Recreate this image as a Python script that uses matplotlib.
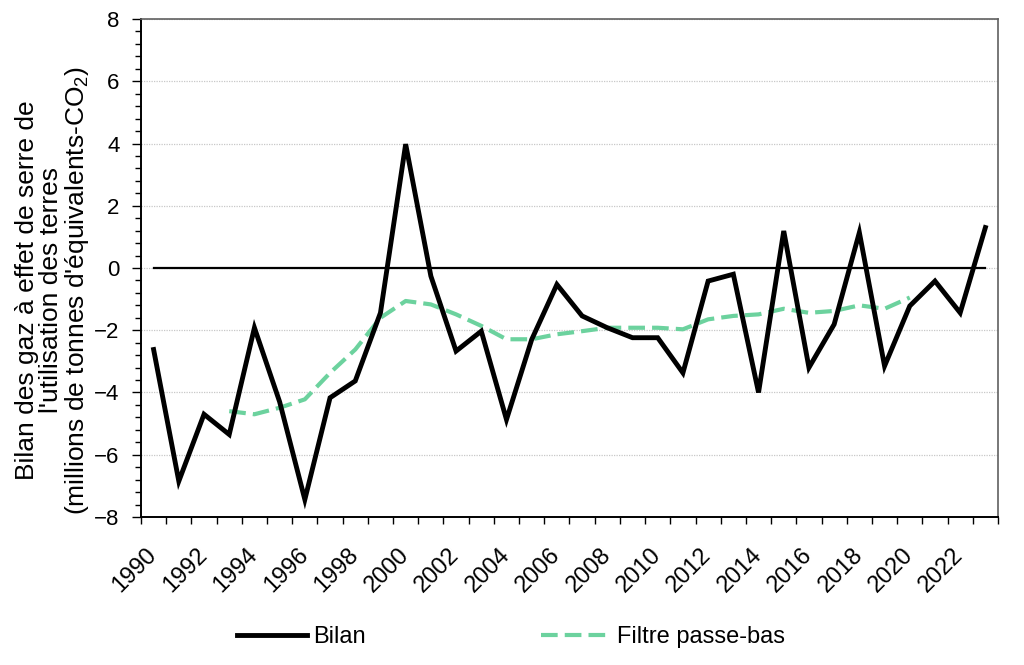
import numpy as np
import matplotlib
matplotlib.use('Agg')
import matplotlib.pyplot as plt
import matplotlib.transforms as mtransforms
from matplotlib.ticker import MultipleLocator, FixedLocator

plt.rcParams['font.family'] = ['Liberation Sans', 'DejaVu Sans']
plt.rcParams['mathtext.default'] = 'regular'

# donnees
annees = list(range(1990, 2024))
bilan = [-2.62, -6.85, -4.7, -5.35, -1.92, -4.3, -7.44, -4.17, -3.63, -1.44,
         3.98, -0.26, -2.67, -2.03, -4.87, -2.3, -0.53, -1.54, -1.92, -2.24,
         -2.24, -3.37, -0.42, -0.2, -4.0, 1.19, -3.2, -1.81, 1.14, -3.15,
         -1.22, -0.42, -1.44, 1.3]
annees_filtre = list(range(1993, 2021))
filtre = [-4.6, -4.7, -4.49, -4.22, -3.37, -2.62, -1.6, -1.06, -1.17, -1.49,
          -1.86, -2.29, -2.29, -2.13, -2.03, -1.92, -1.92, -1.92, -1.97, -1.65,
          -1.54, -1.49, -1.31, -1.44, -1.38, -1.2, -1.31, -0.95]
etiquettes = [str(a) for a in range(1990, 2023, 2)]

x = np.arange(len(annees))
x_filtre = np.array([annees.index(a) for a in annees_filtre])

fig = plt.figure(figsize=(10.24, 6.65), dpi=100)
ax = fig.add_axes([0.1377, 0.2226, 0.8369, 0.7488])

ax.plot(x, np.zeros(len(x)), color='black', lw=1.6, zorder=2)
l1, = ax.plot(x, bilan, color='black', lw=3.5, solid_joinstyle='miter', zorder=4, label='Bilan')
l2, = ax.plot(x_filtre, filtre, color='#6cd29e', lw=3.0, dashes=(4, 1.7), zorder=3,
              label='Filtre passe-bas')

ax.set_xlim(-0.5, len(x) - 0.5)
ax.set_ylim(-8, 8)
ax.yaxis.set_major_locator(MultipleLocator(2))
ax.yaxis.set_minor_locator(MultipleLocator(0.4))
ax.grid(axis='y', which='major', color='#c8c8c8', linestyle=(0, (1, 1)), lw=0.9, zorder=0)

ax.xaxis.set_major_locator(FixedLocator(np.arange(0, len(x), 2)))
ax.set_xticklabels(etiquettes, rotation=45, ha='right', va='center', rotation_mode='anchor',
                   fontsize=17, color='black')
decalage = mtransforms.ScaledTranslation(-0.03, 0, fig.dpi_scale_trans)
for lab in ax.get_xticklabels():
    lab.set_transform(lab.get_transform() + decalage)
ax.xaxis.set_minor_locator(FixedLocator(np.arange(-0.5, len(x), 1)))
ax.tick_params(axis='x', which='major', length=0, pad=25)
ax.tick_params(axis='x', which='minor', length=5, width=1, direction='out')
ax.tick_params(axis='y', which='major', length=6.5, width=1, labelsize=16, labelcolor='black', pad=9)
ax.tick_params(axis='y', which='minor', length=4.5, width=1)

for s in ['top', 'right']:
    ax.spines[s].set_color('#606060')
    ax.spines[s].set_linewidth(1.2)
for s in ['left', 'bottom']:
    ax.spines[s].set_color('black')
    ax.spines[s].set_linewidth(1.4)

ax.set_ylabel("Bilan des gaz à effet de serre de\nl'utilisation des terres\n"
              "(millions de tonnes d'équivalents-CO$_2$)",
              fontsize=19, color='black', linespacing=1.0)
ax.yaxis.set_label_coords(-0.058, 0.455)

fig.legend(handles=[l1, l2], loc='center', bbox_to_anchor=(0.499, 0.042), ncol=2,
           frameon=False, fontsize=17, handlelength=3.0, columnspacing=7.4,
           handletextpad=0.25)

fig.savefig('out.png', dpi=100)
